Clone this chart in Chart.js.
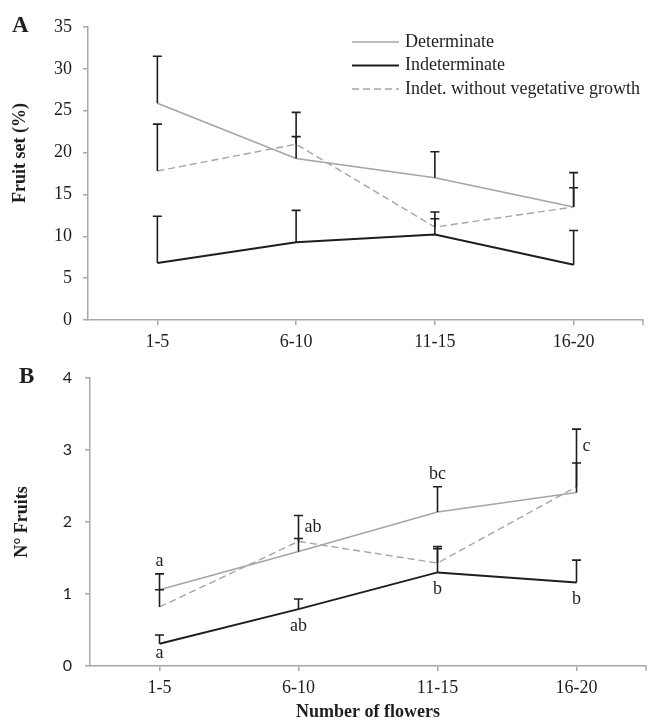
<!DOCTYPE html>
<html>
<head>
<meta charset="utf-8">
<script src="https://cdn.jsdelivr.net/npm/chart.js@4.4.1/dist/chart.umd.min.js"></script>
<style>
body { margin: 0; background: #fff; width: 651px; height: 723px; overflow: hidden; }
.panel { position: absolute; left: 0; }
#wrapA { top: 0; }
#wrapB { top: 355px; }
</style>
</head>
<body>
<div class="panel" id="wrapA"><canvas id="chartA" width="651" height="355"></canvas></div>
<div class="panel" id="wrapB"><canvas id="chartB" width="651" height="368"></canvas></div>
<script>
// categories = number of flowers in the inflorescence
const categories = ["1-5", "6-10", "11-15", "16-20"];
const seriesNames = ["Determinate", "Indeterminate", "Indet. without vegetative growth"];

// panel A - fruit set (%), means and standard errors (upper half drawn)
const fruitSetDet = [25.9, 19.3, 17.0, 13.5];
const fruitSetIndet = [6.8, 9.3, 10.2, 6.6];
const fruitSetNoVeg = [17.8, 21.0, 11.1, 13.5];
const fruitSetDetErr = [5.6, 5.5, 3.1, 4.1];
const fruitSetIndetErr = [5.6, 3.8, 2.7, 4.1];
const fruitSetNoVegErr = [5.6, 0.9, 1.0, 2.3];
const fruitSetTicks = [0, 5, 10, 15, 20, 25, 30, 35];

// panel B - number of fruits
const fruitsDet = [1.06, 1.59, 2.14, 2.41];
const fruitsIndet = [0.31, 0.79, 1.30, 1.16];
const fruitsNoVeg = [0.82, 1.73, 1.43, 2.49];
const fruitsDetErr = [0.22, 0.50, 0.35, 0.41];
const fruitsIndetErr = [0.12, 0.14, 0.36, 0.31];
const fruitsNoVegErr = [0.24, 0.04, 0.20, 0.80];
const fruitsTicks = [0, 1, 2, 3, 4];

// significance letters (panel B)
const topLetters = ["a", "ab", "bc", "c"];
const bottomLetters = ["a", "ab", "b", "b"];

const SERIF = "'Liberation Serif', 'Times New Roman', serif";
const SANS = "Lato, 'Liberation Sans', sans-serif";
const AXIS_GREY = "#a8a8a8";
const LINE_GREY = "#a5a5a5";
const INK = "#1e1e1e";

Chart.defaults.font.family = SERIF;
Chart.defaults.font.size = 18;
Chart.defaults.color = INK;

function makeDatasets(det, indet, noveg, detErr, indetErr, novegErr) {
    return [
        { label: seriesNames[0], data: det, errors: detErr, borderColor: LINE_GREY, borderWidth: 1.6 },
        { label: seriesNames[1], data: indet, errors: indetErr, borderColor: INK, borderWidth: 2 },
        { label: seriesNames[2], data: noveg, errors: novegErr, borderColor: LINE_GREY, borderWidth: 1.4, borderDash: [7, 4] }
    ].map(d => Object.assign(d, { pointRadius: 0, tension: 0, fill: false }));
}

// upper standard error bars, black for every series
const errorBars = {
    id: "errorBars",
    afterDatasetsDraw(chart) {
        const ctx = chart.ctx;
        const y = chart.scales.y;
        ctx.save();
        ctx.strokeStyle = INK;
        ctx.lineWidth = 1.6;
        chart.data.datasets.forEach((ds, i) => {
            const meta = chart.getDatasetMeta(i);
            meta.data.forEach((pt, j) => {
                const top = y.getPixelForValue(ds.data[j] + ds.errors[j]);
                ctx.beginPath();
                ctx.moveTo(pt.x, pt.y);
                ctx.lineTo(pt.x, top);
                ctx.moveTo(pt.x - 4.5, top);
                ctx.lineTo(pt.x + 4.5, top);
                ctx.stroke();
            });
        });
        ctx.restore();
    }
};

// small tick at the right end of the x axis
const endTick = {
    id: "endTick",
    afterDraw(chart) {
        const a = chart.chartArea;
        const ctx = chart.ctx;
        ctx.save();
        ctx.strokeStyle = AXIS_GREY;
        ctx.lineWidth = 1.5;
        ctx.beginPath();
        ctx.moveTo(a.right, a.bottom);
        ctx.lineTo(a.right, a.bottom + 5);
        ctx.stroke();
        ctx.restore();
    }
};

function panelLetter(letter) {
    return {
        id: "panelLetter",
        afterDraw(chart) {
            const ctx = chart.ctx;
            ctx.save();
            ctx.font = "bold 23px " + SERIF;
            ctx.fillStyle = INK;
            ctx.textBaseline = "alphabetic";
            ctx.fillText(letter, letter === "A" ? 12 : 19, letter === "A" ? 32 : 28);
            ctx.restore();
        }
    };
}

function baseOptions(yTicks, yFont, padTop, padRight, yWidth, xHeight, yTickPad) {
    return {
        responsive: false,
        animation: false,
        events: [],
        layout: { padding: { top: padTop, right: padRight, left: 0, bottom: 0 } },
        plugins: { legend: { display: false }, tooltip: { enabled: false } },
        scales: {
            x: {
                offset: true,
                grid: { drawOnChartArea: false, tickLength: 5, color: AXIS_GREY, lineWidth: 1.5 },
                border: { color: AXIS_GREY, width: 1.5 },
                ticks: { padding: 6, color: INK, maxRotation: 0 },
                afterFit: s => { s.height = xHeight; }
            },
            y: {
                min: yTicks[0],
                max: yTicks[yTicks.length - 1],
                afterBuildTicks: s => { s.ticks = yTicks.map(v => ({ value: v })); },
                grid: { drawOnChartArea: false, tickLength: 5, color: AXIS_GREY, lineWidth: 1.5 },
                border: { color: AXIS_GREY, width: 1.5 },
                ticks: { padding: yTickPad, color: INK, font: yFont },
                afterFit: s => { s.width = yWidth; }
            }
        }
    };
}

// ---------- panel A ----------
const optsA = baseOptions(fruitSetTicks, { family: SERIF, size: 18 }, 27, 8, 88, 35, 11);

const legendA = {
    id: "legendA",
    afterDraw(chart) {
        const ctx = chart.ctx;
        ctx.save();
        ctx.font = "18px " + SERIF;
        ctx.textBaseline = "middle";
        chart.data.datasets.forEach((ds, i) => {
            const yy = 42 + i * 23.5;
            ctx.strokeStyle = ds.borderColor;
            ctx.lineWidth = ds.borderWidth;
            ctx.setLineDash(ds.borderDash || []);
            ctx.beginPath();
            ctx.moveTo(352, yy);
            ctx.lineTo(399, yy);
            ctx.stroke();
            ctx.fillStyle = INK;
            ctx.fillText(ds.label, 405, yy);
        });
        // y axis title (sits above the axis centre in the original)
        ctx.setLineDash([]);
        ctx.translate(20, 153);
        ctx.rotate(-Math.PI / 2);
        ctx.textAlign = "center";
        ctx.font = "bold 18px " + SERIF;
        ctx.fillText("Fruit set (%)", 0, 0);
        ctx.restore();
    }
};

new Chart(document.getElementById("chartA"), {
    type: "line",
    data: {
        labels: categories,
        datasets: makeDatasets(fruitSetDet, fruitSetIndet, fruitSetNoVeg, fruitSetDetErr, fruitSetIndetErr, fruitSetNoVegErr)
    },
    options: optsA,
    plugins: [errorBars, endTick, legendA, panelLetter("A")]
});

// ---------- panel B ----------
const optsB = baseOptions(fruitsTicks, { family: SANS, size: 16 }, 23, 5, 90, 57, 13);
optsB.scales.y.title = { display: true, text: "N\u00b0 Fruits", font: { family: SERIF, size: 18, weight: "bold" }, padding: { top: 12, bottom: 0 } };
optsB.scales.x.title = { display: true, text: "Number of flowers", font: { family: SERIF, size: 18, weight: "bold" }, padding: { top: 0, bottom: 0 } };

const lettersB = {
    id: "lettersB",
    afterDraw(chart) {
        const ctx = chart.ctx;
        const ys = chart.scales.y;
        const xs = chart.scales.x;
        const sets = chart.data.datasets;
        ctx.save();
        ctx.font = "18px " + SERIF;
        ctx.fillStyle = INK;
        categories.forEach((c, i) => {
            const px = xs.getPixelForValue(i);
            const caps = sets.map(ds => ys.getPixelForValue(ds.data[i] + ds.errors[i])).sort((a, b) => a - b);
            if (i % 2 === 0) {
                ctx.textAlign = "center";
                ctx.textBaseline = "alphabetic";
                ctx.fillText(topLetters[i], px, caps[0] - 8);
            } else {
                ctx.textAlign = "left";
                ctx.textBaseline = "middle";
                ctx.fillText(topLetters[i], px + 6, (caps[0] + caps[1]) / 2);
            }
            const low = ys.getPixelForValue(sets[1].data[i]);
            ctx.textAlign = "center";
            ctx.textBaseline = "alphabetic";
            ctx.fillText(bottomLetters[i], px, Math.min(low + 22, chart.chartArea.bottom - 8));
        });
        ctx.restore();
    }
};

new Chart(document.getElementById("chartB"), {
    type: "line",
    data: {
        labels: categories,
        datasets: makeDatasets(fruitsDet, fruitsIndet, fruitsNoVeg, fruitsDetErr, fruitsIndetErr, fruitsNoVegErr)
    },
    options: optsB,
    plugins: [errorBars, endTick, lettersB, panelLetter("B")]
});
</script>
</body>
</html>
